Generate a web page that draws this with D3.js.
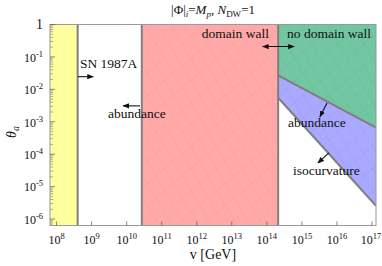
<!DOCTYPE html>
<html><head><meta charset="utf-8">
<script src="https://cdn.jsdelivr.net/npm/d3@7"></script>
</head><body style="margin:0;background:#fff"><svg id="c" width="382" height="266"></svg>
<script>
// ---- data ----
const xTickExps = [8,9,10,11,12,13,14,15,16,17];
const yTickExps = [0,-1,-2,-3,-4,-5,-6];
const xDomain = [6.5e7, 1.3e17];
const yDomain = [Math.pow(10,-6.2), 1];
const snBound = 4e8;
const abundanceBound = 2.7e10;
const dwBound = 2.1e14;
const greenLine = [[2.1e14, Math.pow(10,-1.57)], [1.3e17, Math.pow(10,-3.18)]];
const blueLine  = [[2.1e14, Math.pow(10,-2.26)], [1.3e17, Math.pow(10,-5.59)]];
const labels = [
  {t:"SN 1987A", v:4.66e8, th:Math.pow(10,-1.34), a:"start"},
  {t:"abundance", v:2.94e9, th:Math.pow(10,-2.88), a:"start"},
  {t:"domain wall", v:1.15e14, th:Math.pow(10,-0.42), a:"end"},
  {t:"no domain wall", v:3.76e14, th:Math.pow(10,-0.42), a:"start"},
  {t:"abundance", v:4.02e14, th:Math.pow(10,-3.16), a:"start"},
  {t:"isocurvature", v:5.58e14, th:Math.pow(10,-4.64), a:"start"}
];
const arrows = [
  {from:[4.1e8, Math.pow(10,-1.61)], to:[1.11e9, Math.pow(10,-1.61)], both:false},
  {from:[2.4e10, Math.pow(10,-2.51)], to:[7.9e9, Math.pow(10,-2.51)], both:false},
  {from:[7.6e13, Math.pow(10,-0.68)], to:[6.0e14, Math.pow(10,-0.68)], both:true},
  {from:[5.2e15, Math.pow(10,-2.42)], to:[3.26e15, Math.pow(10,-2.85)], both:false},
  {from:[5.9e15, Math.pow(10,-3.96)], to:[2.86e15, Math.pow(10,-4.27)], both:false}
];

// ---- layout ----
const svg = d3.select("#c");
const L=50, R=376, T=24.5, B=225.5;
const x = d3.scaleLog().domain(xDomain).range([L,R]);
const y = d3.scaleLog().domain(yDomain).range([B,T]);
const gray = "#7f7f7f";

const defs = svg.append("defs");
function hatch(id, col){
  const p = defs.append("pattern").attr("id",id).attr("patternUnits","userSpaceOnUse")
    .attr("width",26).attr("height",22);
  p.append("path").attr("d","M0,22L26,0M0,0L13,22M13,0L26,22").attr("stroke",col).attr("stroke-width",0.5).attr("fill","none");
}
hatch("hr","rgba(230,80,80,0.18)");
hatch("hg","rgba(40,140,100,0.18)");
hatch("hb","rgba(90,90,230,0.18)");

const clip = defs.append("clipPath").attr("id","pc");
clip.append("rect").attr("x",L).attr("y",T).attr("width",R-L).attr("height",B-T);
const g = svg.append("g").attr("clip-path","url(#pc)");

g.append("rect").attr("x",x(xDomain[0])).attr("y",y(1)).attr("width",x(snBound)-x(xDomain[0])).attr("height",y(yDomain[0])-y(1)).attr("fill","#ffff9e");
g.append("rect").attr("x",x(abundanceBound)).attr("y",y(1)).attr("width",x(dwBound)-x(abundanceBound)).attr("height",y(yDomain[0])-y(1)).attr("fill","#ffa9a9");
g.append("rect").attr("x",x(abundanceBound)).attr("y",y(1)).attr("width",x(dwBound)-x(abundanceBound)).attr("height",y(yDomain[0])-y(1)).attr("fill","url(#hr)");
const line = d3.line().x(d=>x(d[0])).y(d=>y(d[1]));
const greenPoly = [[dwBound,1],[xDomain[1],1],greenLine[1],greenLine[0]];
const bluePoly = [greenLine[0],greenLine[1],blueLine[1],blueLine[0]];
g.append("path").attr("d",line(greenPoly)+"Z").attr("fill","#72c6a2");
g.append("path").attr("d",line(greenPoly)+"Z").attr("fill","url(#hg)");
g.append("path").attr("d",line(bluePoly)+"Z").attr("fill","#a9a9ff");
g.append("path").attr("d",line(bluePoly)+"Z").attr("fill","url(#hb)");

[snBound, abundanceBound, dwBound].forEach(v=>{
  g.append("line").attr("x1",x(v)).attr("x2",x(v)).attr("y1",y(1)).attr("y2",y(yDomain[0])).attr("stroke",gray).attr("stroke-width",2);
});
g.append("path").attr("d",line(greenLine)).attr("stroke",gray).attr("stroke-width",2).attr("fill","none");
g.append("path").attr("d",line(blueLine)).attr("stroke",gray).attr("stroke-width",2).attr("fill","none");

svg.append("rect").attr("x",L).attr("y",T).attr("width",R-L).attr("height",B-T).attr("fill","none").attr("stroke","#999").attr("stroke-width",1);

const sup = (sel, e, xx, yy, anchor)=>{
  const t = sel.append("text").attr("x",xx).attr("y",yy).attr("text-anchor",anchor).attr("font-size",12).attr("fill","#111");
  if(e===0){t.attr("font-size",14).text("1");return;}
  t.append("tspan").text("10");
  t.append("tspan").attr("dy",-5).attr("font-size",8.5).text(e);
};
xTickExps.forEach(e=>{
  const xx = x(Math.pow(10,e));
  svg.append("line").attr("x1",xx).attr("x2",xx).attr("y1",B).attr("y2",B-4).attr("stroke","#666").attr("stroke-width",0.8);
  sup(svg, e, e===17 ? xx-1 : xx, B+18, "middle");
});
yTickExps.forEach(e=>{
  const yy = y(Math.pow(10,e));
  svg.append("line").attr("x1",L).attr("x2",L+5).attr("y1",yy).attr("y2",yy).attr("stroke","#666").attr("stroke-width",0.8);
  sup(svg, e, L-7, yy+(e===0?4:4.8), "end");
  for(let m=2;m<=9;m++){
    const v = m*Math.pow(10,e-1);
    if(v<yDomain[0]) continue;
    const ym = y(v);
    svg.append("line").attr("x1",L).attr("x2",L+3).attr("y1",ym).attr("y2",ym).attr("stroke","#777").attr("stroke-width",0.6);
  }
});

svg.append("text").attr("x",213).attr("y",259).attr("text-anchor","middle").attr("font-size",14).attr("fill","#111").text("v [GeV]");
const yl = svg.append("text").attr("transform","translate(16,132) rotate(-90)").attr("text-anchor","middle").attr("font-size",14).attr("font-style","italic").attr("fill","#111");
yl.append("tspan").text("θ");
yl.append("tspan").attr("dy",3).attr("font-size",10).text("a");

const tt = svg.append("text").attr("x",213).attr("y",14).attr("text-anchor","middle").attr("font-size",13).attr("fill","#111");
tt.append("tspan").text("|Φ|");
tt.append("tspan").attr("font-style","italic").attr("font-size",9).attr("dy",3).text("i");
tt.append("tspan").attr("dy",-3).text("=");
tt.append("tspan").attr("font-style","italic").text("M");
tt.append("tspan").attr("font-style","italic").attr("font-size",9).attr("dy",3).text("p");
tt.append("tspan").attr("dy",-3).text(", ");
tt.append("tspan").attr("font-style","italic").text("N");
tt.append("tspan").attr("font-size",9).attr("dy",3).text("DW");
tt.append("tspan").attr("dy",-3).text("=1");

labels.forEach(d=>{
  svg.append("text").attr("x",x(d.v)).attr("y",y(d.th)).attr("text-anchor",d.a).attr("font-size",13.5).attr("fill","#111").text(d.t);
});
defs.append("marker").attr("id","ah").attr("viewBox","0 0 10 10").attr("refX",9).attr("refY",5)
  .attr("markerWidth",6).attr("markerHeight",6).attr("orient","auto-start-reverse")
  .append("path").attr("d","M0,1L10,5L0,9Z").attr("fill","#111");
arrows.forEach(a=>{
  const l = svg.append("line").attr("x1",x(a.from[0])).attr("y1",y(a.from[1])).attr("x2",x(a.to[0])).attr("y2",y(a.to[1]))
    .attr("stroke","#111").attr("stroke-width",1.1).attr("marker-end","url(#ah)");
  if(a.both) l.attr("marker-start","url(#ah)");
});
svg.selectAll("text").style("font-family","Liberation Serif");
</script></body></html>
